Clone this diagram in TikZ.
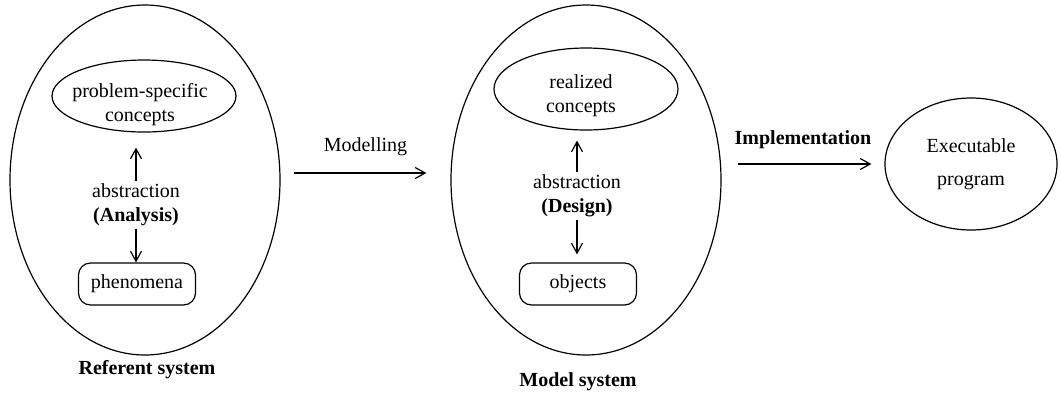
\documentclass[tikz,border=0pt]{standalone}
\usepackage{fontspec}
\setmainfont{Liberation Serif}
\usetikzlibrary{positioning,shapes.geometric,arrows.meta}

\begin{document}
\begin{tikzpicture}[
    x=0.5pt, y=-0.5pt, line width=0.6pt,
    system/.style={ellipse, draw, minimum width=135pt, minimum height=175pt, inner sep=0pt},
    concept/.style={ellipse, draw, align=center, inner sep=0pt},
    thing/.style={rectangle, rounded corners=6pt, draw, minimum width=58.5pt, minimum height=21pt},
    mid/.style={align=center, inner sep=1pt},
    arrow/.style={-{Straight Barb[length=5pt, width=5.5pt]}},
    caption/.style={font=\bfseries},
]
    \useasboundingbox (0,0) rectangle (1061,393);

    % Referent system
    \node[system] (referent) at (145,180) {};
    \node[concept, minimum width=92pt, minimum height=36pt] (problem) at (144,96) {};
    \node[align=center] (problemtext) at (140,105) {problem-specific\\concepts};
    \node[mid] (analysis) at (136,205) {abstraction\\\textbf{(Analysis)}};
    \node[thing] (phenomena) at (137,284) {phenomena};
    \node[caption] (referentname) at (147,370) {Referent system};

    % Model system
    \node[system] (model) at (586,180) {};
    \node[concept, minimum width=92pt, minimum height=41pt] (realized) at (586,89) {};
    \node[align=center] (realizedtext) at (581,96) {realized\\concepts};
    \node[mid] (design) at (577,196) {abstraction\\\textbf{(Design)}};
    \node[thing] (objects) at (578,284) {objects};
    \node[caption] (modelname) at (578,382) {Model system};

    % Executable program
    \node[concept, minimum width=86pt, minimum height=66pt] (program) at (971,164) {Executable\\[4.5pt]program};

    % Abstraction arrows
    \draw[arrow, shorten >=7.5pt] (analysis.north) -- (analysis.north |- problem.south);
    \draw[arrow] (analysis.south) -- (analysis.south |- phenomena.north);
    \draw[arrow, shorten >=5pt] (design.north) -- (design.north |- realized.south);
    \draw[arrow, shorten >=4pt] (design.south) -- (design.south |- objects.north);

    % Arrows between systems
    \draw[arrow, shorten <=6.5pt, shorten >=12pt] ([yshift=3.5pt]referent.east) -- node[above=5pt] {Modelling} ([yshift=3.5pt]model.west);
    \draw[arrow, shorten <=8pt, shorten >=6.5pt] (model.east |- program.west) -- node[above=4pt, font=\bfseries] {Implementation} (program.west);
\end{tikzpicture}
\end{document}
